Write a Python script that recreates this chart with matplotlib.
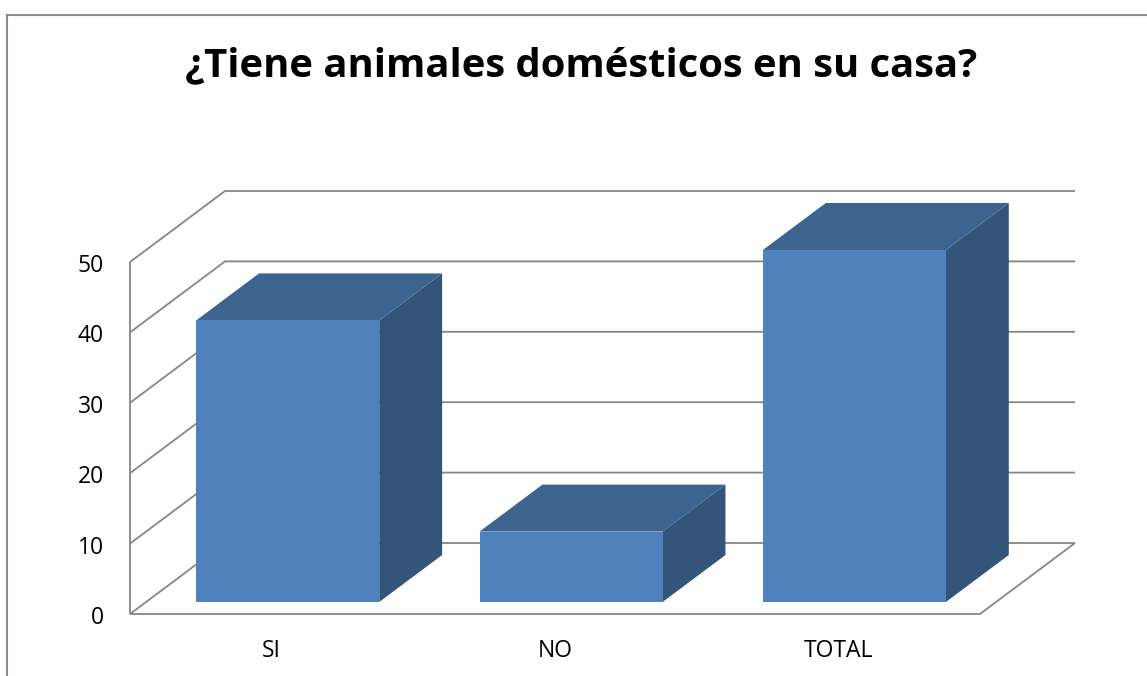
import matplotlib
matplotlib.use("Agg")
import matplotlib.pyplot as plt
from matplotlib.patches import Polygon
from matplotlib.lines import Line2D

# Chart data
categories = ["SI", "NO", "TOTAL"]
values = [40, 10, 50]
y_ticks = [0, 10, 20, 30, 40, 50]
title = "¿Tiene animales domésticos en su casa?"

W, H = 1147, 676
fig = plt.figure(figsize=(W / 100, H / 100), dpi=100)
fig.patch.set_facecolor("white")

# Plot geometry (pixels) for the oblique 3-D look
X0_PX, X1_PX = 130, 980          # front plane: category range -0.5 .. 2.5
Y0_PX = 614                      # front plane: value 0
PX_PER_VAL = 7.04                # pixels per unit of value
DEPTH_DX_PX, DEPTH_DY_PX = 95, 71

px_per_cat = (X1_PX - X0_PX) / len(categories)
xmin = -0.5 - X0_PX / px_per_cat
xmax = -0.5 + (W - X0_PX) / px_per_cat
ymin = -(H - Y0_PX) / PX_PER_VAL
ymax = Y0_PX / PX_PER_VAL

ax = fig.add_axes([0, 0, 1, 1])
ax.set_xlim(xmin, xmax)
ax.set_ylim(ymin, ymax)
ax.axis("off")

DX = DEPTH_DX_PX / px_per_cat     # x shift for full depth
DY = DEPTH_DY_PX / PX_PER_VAL     # value shift for full depth
xl, xr = -0.5, len(categories) - 0.5

grid_kw = dict(color="#868686", lw=1.3, solid_capstyle="butt", zorder=1)

# Side wall diagonals + back wall gridlines
for v in y_ticks:
    ax.plot([xl, xl + DX, xr + DX], [v, v + DY, v + DY], **grid_kw)
# Vertical value axis
ax.plot([xl, xl], [0, y_ticks[-1]], **grid_kw)
# Floor front edge and right edge
ax.plot([xl, xr, xr + DX], [0, 0, DY], **grid_kw)

# Bars
front_col = "#4F81BD"
top_col = "#3D638F"
side_col = "#335579"
bar_w = 0.646
d_front, d_back = 0.169, 0.831
for i, v in enumerate(values):
    fx, fy = d_front * DX, d_front * DY
    bx, by = d_back * DX, d_back * DY
    l = i - bar_w / 2 + fx
    r = i + bar_w / 2 + fx
    b = fy
    t = fy + v
    ddx, ddy = bx - fx, by - fy
    front = Polygon([(l, b), (r, b), (r, t), (l, t)], closed=True,
                    facecolor=front_col, edgecolor="none", zorder=3)
    side = Polygon([(r, b), (r + ddx, b + ddy), (r + ddx, t + ddy), (r, t)],
                   closed=True, facecolor=side_col, edgecolor="none", zorder=3)
    top = Polygon([(l, t), (r, t), (r + ddx, t + ddy), (l + ddx, t + ddy)],
                  closed=True, facecolor=top_col, edgecolor="none", zorder=3)
    for p in (side, top, front):
        ax.add_patch(p)

# Value tick labels
font = "Open Sans"
label_dx = -26 / px_per_cat
for v in y_ticks:
    ax.text(xl + label_dx, v - 4 / PX_PER_VAL, str(v), ha="right", va="center",
            fontsize=16.5, family=font, color="black")

# Category labels
for i, c in enumerate(categories):
    ax.text(i, -37 / PX_PER_VAL, c, ha="center", va="center",
            fontsize=16.5, family=font, color="black")

# Title
fig.text(581 / W, 1 - 66 / H, title, ha="center", va="center",
         fontsize=28.8, fontweight="bold", family=font, color="black")

# Chart area frame (top and left edges)
fig.add_artist(Line2D([7.5 / W, 1.0], [1 - 14.5 / H, 1 - 14.5 / H],
                      color="#8c8c8c", lw=1.5, transform=fig.transFigure))
fig.add_artist(Line2D([7.5 / W, 7.5 / W], [0, 1 - 14.5 / H],
                      color="#8c8c8c", lw=1.5, transform=fig.transFigure))

fig.savefig("out.png", dpi=100, facecolor="white")
